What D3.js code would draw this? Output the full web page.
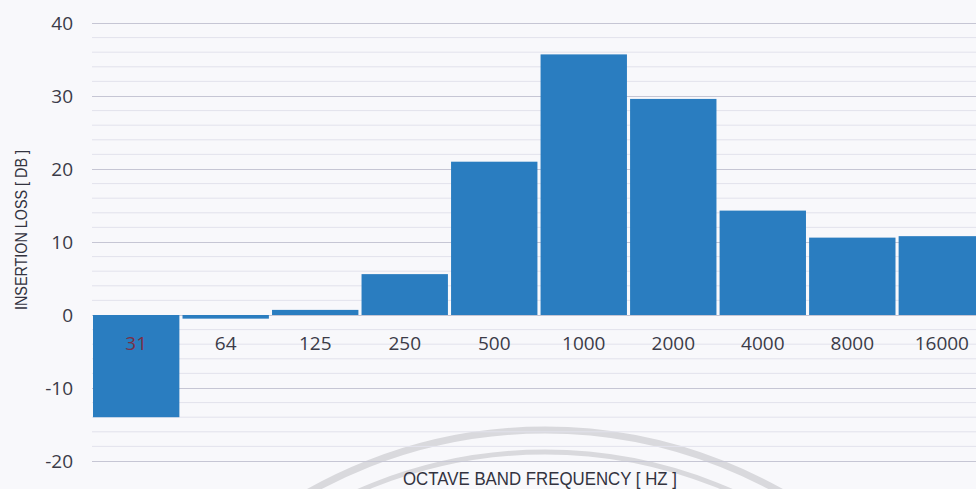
<!DOCTYPE html>
<html>
<head>
<meta charset="utf-8">
<script src="https://cdn.jsdelivr.net/npm/d3@7"></script>
<style>
  body { margin: 0; background: #f8f8fb; }
  svg { display: block; }
  .tick-label { font-family: "Open Sans", sans-serif; font-size: 19px; fill: #3b3b48; }
  .axis-title { font-family: "Liberation Sans", Arial, sans-serif; fill: #33333f; }
</style>
</head>
<body>
<div id="chart"></div>
<script>
var bands = ["31", "64", "125", "250", "500", "1000", "2000", "4000", "8000", "16000"];
var loss = [-14, -0.5, 0.7, 5.6, 21, 35.7, 29.6, 14.3, 10.6, 10.8];
var yTicks = [-20, -10, 0, 10, 20, 30, 40];

var width = 976, height = 489;

var svg = d3.select("#chart").append("svg")
    .attr("width", width)
    .attr("height", height);

svg.append("rect")
    .attr("width", width)
    .attr("height", height)
    .attr("fill", "#f8f8fb");

var xScale = d3.scaleBand()
    .domain(bands)
    .range([93, 985])
    .paddingInner(0.035)
    .paddingOuter(0);

var yScale = d3.scaleLinear()
    .domain([-20, 40])
    .range([461, 23]);

// faint watermark arcs from the scan
var wm = svg.append("g").attr("fill", "none").attr("stroke", "#d9d9dd");
wm.append("circle").attr("cx", 545).attr("cy", 910).attr("r", 480).attr("stroke-width", 7);
wm.append("circle").attr("cx", 545).attr("cy", 915).attr("r", 463).attr("stroke-width", 5);

// minor gridlines every 2
var minor = d3.range(-20, 41, 2).filter(v => v % 10 !== 0);
svg.append("g").selectAll("line")
    .data(minor)
    .enter().append("line")
    .attr("x1", 92).attr("x2", width)
    .attr("y1", d => yScale(d)).attr("y2", d => yScale(d))
    .attr("stroke", "#e2e2ec")
    .attr("stroke-width", 1);

// major gridlines
var yAxis = d3.axisLeft(yScale)
    .tickValues(yTicks)
    .tickSize(-(width - 92))
    .tickFormat("");

svg.append("g")
    .attr("class", "y axis")
    .attr("transform", "translate(92,0)")
    .call(yAxis)
    .call(g => g.select(".domain").remove())
    .call(g => g.selectAll(".tick line").attr("stroke", "#c6c6d4").attr("stroke-width", 1.2));

svg.append("g").selectAll("text")
    .data(yTicks)
    .enter().append("text")
    .attr("class", "tick-label")
    .attr("x", 73)
    .attr("y", d => yScale(d))
    .attr("dy", "0.35em")
    .attr("text-anchor", "end")
    .text(d => d);

svg.selectAll(".bar")
    .data(loss)
    .enter().append("rect")
    .attr("class", "bar")
    .attr("x", (d, i) => xScale(bands[i]))
    .attr("y", d => yScale(Math.max(0, d)))
    .attr("width", xScale.bandwidth())
    .attr("height", d => Math.abs(yScale(d) - yScale(0)))
    .attr("fill", "#2a7dc0");

var xAxis = d3.axisBottom(xScale).tickSize(0);

svg.append("g")
    .attr("class", "x axis")
    .attr("transform", "translate(0," + (yScale(0) + 18) + ")")
    .call(xAxis)
    .call(g => g.select(".domain").remove())
    .call(g => g.selectAll(".tick text")
        .attr("class", "tick-label")
        .attr("fill", null)
        .style("fill", d => d === "31" ? "#7b2f45" : "#3b3b48"));

// titles are a narrow face in the scan, so squeeze them to its length
svg.append("text")
    .attr("class", "axis-title")
    .attr("transform", "translate(27,230) rotate(-90)")
    .attr("text-anchor", "middle")
    .style("font-size", "17px")
    .attr("textLength", 160)
    .attr("lengthAdjust", "spacingAndGlyphs")
    .text("INSERTION LOSS [ DB ]");

svg.append("text")
    .attr("class", "axis-title")
    .attr("x", 540)
    .attr("y", 485)
    .attr("text-anchor", "middle")
    .style("font-size", "19px")
    .attr("textLength", 274)
    .attr("lengthAdjust", "spacingAndGlyphs")
    .text("OCTAVE BAND FREQUENCY [ HZ ]");
</script>
</body>
</html>
